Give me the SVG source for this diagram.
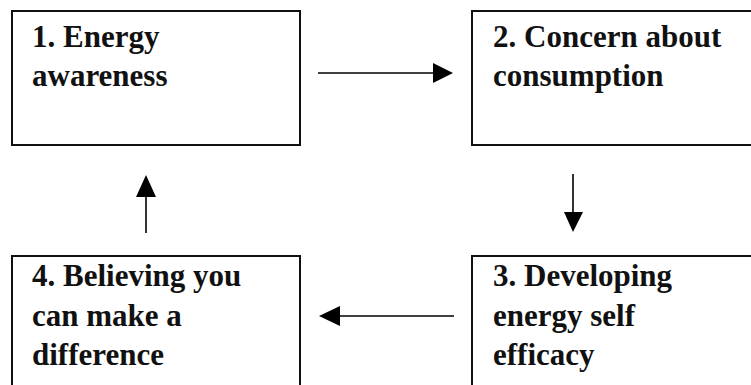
<svg xmlns="http://www.w3.org/2000/svg" width="751" height="385" viewBox="0 0 751 385">
<style>
.box{fill:#fff;stroke:#111;stroke-width:2}
.t{font-family:"Liberation Serif","Times New Roman",serif;font-weight:bold;font-size:31px;fill:#111}
.c{stroke:#000;stroke-width:1.6;fill:none}
.h{fill:#000}
</style>
<rect width="751" height="385" fill="#fff"/>
<g id="node1">
<rect class="box" x="12" y="11" width="288" height="134"/>
<text class="t" x="32" y="47">1. Energy</text>
<text class="t" x="32" y="86">awareness</text>
</g>
<g id="node2">
<rect class="box" x="472" y="11" width="290" height="134"/>
<text class="t" x="493" y="47">2. Concern about</text>
<text class="t" x="493" y="86">consumption</text>
</g>
<g id="node3">
<rect class="box" x="472" y="256" width="290" height="140"/>
<text class="t" x="493" y="286">3. Developing</text>
<text class="t" x="493" y="326">energy self</text>
<text class="t" x="493" y="365">efficacy</text>
</g>
<g id="node4">
<rect class="box" x="12" y="256" width="288" height="140"/>
<text class="t" x="32" y="286">4. Believing you</text>
<text class="t" x="32" y="326">can make a</text>
<text class="t" x="32" y="365">difference</text>
</g>
<g id="connectors">
<line class="c" x1="318" y1="73" x2="435" y2="73"/>
<polygon class="h" points="433,63 453,73 433,83"/>
<line class="c" x1="573" y1="174" x2="573" y2="214"/>
<polygon class="h" points="564,212 583,212 573,232"/>
<line class="c" x1="454" y1="316" x2="338" y2="316"/>
<polygon class="h" points="340,306 319,316 340,326"/>
<line class="c" x1="146" y1="233" x2="146" y2="195"/>
<polygon class="h" points="136,197 156,197 146,175"/>
</g>
</svg>
